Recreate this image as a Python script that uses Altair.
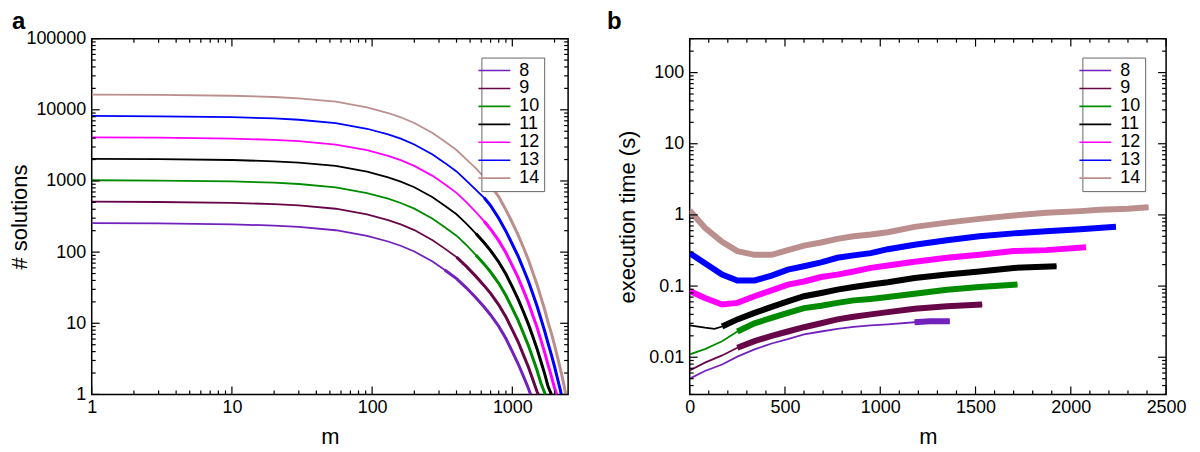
import altair as alt
import pandas as pd

SERIES = ["8", "9", "10", "11", "12", "13", "14"]
COLORS = ["#7221BC", "#670748", "#008B00", "#000000", "#FF00FF", "#0000FF", "#BC8F8F"]

# ---------------- panel a: number of solutions vs m ----------------
M_GRID = [1, 3, 10, 20, 30, 55, 92, 130, 160, 200, 270, 330, 400, 470, 550, 630, 700,
          800, 900, 1000, 1100, 1200, 1300, 1400, 1500, 1600, 1700, 1800, 1900, 2000,
          2100, 2200, 2300, 2400]
A_M = {
    "8":  M_GRID[:23] + [1350],
    "9":  M_GRID[:25] + [1530],
    "10": M_GRID[:26] + [1720],
    "11": M_GRID[:28] + [1900],
    "12": M_GRID[:30] + [2070],
    "13": M_GRID[:32] + [2235],
    "14": M_GRID[:34],
}
A_N = {
    "8":  [256, 253, 246, 236, 227, 203, 169, 141, 123, 102, 73.7, 56, 42.5, 31.5, 22.8, 16.9,
           13.1, 9.1, 6.1, 4.0, 2.7, 1.8, 1.23, 1],
    "9":  [512, 506, 493, 473, 453, 407, 338, 282, 245, 204, 147, 112, 85, 63, 45.6, 33.8, 26.3,
           18.2, 12.3, 8.1, 5.5, 3.6, 2.45, 1.62, 1.1, 1],
    "10": [1024, 1013, 985, 945, 906, 813, 677, 563, 490, 408, 295, 224, 170, 126, 91, 67.7, 52.5,
           36.4, 24.6, 16.2, 11.0, 7.25, 4.9, 3.24, 2.19, 1.44, 1],
    "11": [2048, 2025, 1970, 1890, 1812, 1626, 1354, 1126, 981, 815, 590, 449, 340, 252, 182, 135,
           105, 72.7, 49.2, 32.4, 21.9, 14.5, 9.8, 6.5, 4.4, 2.9, 1.96, 1.29, 1],
    "12": [4096, 4051, 3940, 3781, 3625, 3252, 2707, 2253, 1962, 1630, 1180, 897, 680, 504, 365,
           271, 210, 145, 98, 64.7, 43.8, 29, 19.6, 12.9, 8.8, 5.8, 3.9, 2.6, 1.79, 1.24, 1],
    "13": [8192, 8102, 7880, 7561, 7250, 6504, 5415, 4506, 3924, 3260, 2359, 1794, 1360, 1008, 750,
           580, 450, 300, 197, 129, 87.7, 58, 39.2, 25.9, 17.5, 11.6, 7.8, 5.2, 3.6, 2.47, 1.67,
           1.16, 1],
    "14": [16384, 16204, 15761, 15122, 14500, 13009, 10830, 9011, 7848, 6521, 4719, 3588, 2720,
           2015, 1500, 1120, 870, 600, 393, 259, 175, 116, 78.5, 51.8, 35, 23.1, 15.6, 10.3, 7.2,
           4.95, 3.34, 2.31, 1.56, 1.03],
}
# m from which the curve of panel a looks noisy (thicker)
A_NOISY_FROM = {"8": 300, "9": 400, "10": 500, "11": 550, "12": 600, "13": 600, "14": 700}

# ---------------- panel b: execution time vs m ----------------
B_M = {
    "8":  [0, 80, 170, 250, 340, 430, 515, 600, 690, 775, 860, 950, 1040, 1180, 1260, 1365],
    "9":  [0, 80, 170, 250, 340, 430, 515, 600, 690, 775, 860, 950, 1040, 1180, 1350, 1535],
    "10": [0, 80, 170, 250, 340, 430, 515, 600, 690, 775, 860, 950, 1040, 1180, 1350, 1520, 1720],
    "11": [0, 80, 130, 170, 250, 340, 430, 515, 600, 690, 775, 860, 950, 1040, 1180, 1350, 1520, 1700, 1925],
    "12": [0, 80, 170, 250, 340, 430, 515, 600, 690, 775, 860, 950, 1040, 1180, 1350, 1520, 1700, 1870, 2080],
    "13": [0, 80, 170, 250, 340, 430, 515, 600, 690, 775, 860, 950, 1040, 1180, 1350, 1520, 1700, 1870, 2050, 2237],
    "14": [0, 80, 170, 250, 340, 430, 515, 600, 690, 775, 860, 950, 1040, 1180, 1350, 1520, 1700, 1870, 2050, 2150, 2300, 2408],
}
B_T = {
    "8":  [0.005, 0.0064, 0.0079, 0.0102, 0.0129, 0.0156, 0.018, 0.021, 0.023, 0.025, 0.0267, 0.028, 0.029, 0.031, 0.032, 0.032],
    "9":  [0.0065, 0.0084, 0.0106, 0.0136, 0.0168, 0.020, 0.023, 0.0264, 0.030, 0.034, 0.037, 0.040, 0.043, 0.048, 0.052, 0.055],
    "10": [0.011, 0.013, 0.0168, 0.023, 0.030, 0.0357, 0.042, 0.049, 0.053, 0.058, 0.063, 0.066, 0.070, 0.078, 0.089, 0.097, 0.105],
    "11": [0.028, 0.026, 0.025, 0.027, 0.034, 0.042, 0.051, 0.061, 0.072, 0.080, 0.089, 0.097, 0.105, 0.113, 0.13, 0.145, 0.16, 0.18, 0.19],
    "12": [0.085, 0.068, 0.055, 0.058, 0.072, 0.087, 0.105, 0.116, 0.134, 0.145, 0.16, 0.18, 0.195, 0.22, 0.25, 0.275, 0.31, 0.32, 0.35],
    "13": [0.29, 0.21, 0.145, 0.12, 0.12, 0.14, 0.17, 0.19, 0.215, 0.25, 0.27, 0.29, 0.33, 0.38, 0.44, 0.50, 0.55, 0.59, 0.63, 0.68],
    "14": [1.15, 0.66, 0.42, 0.31, 0.275, 0.275, 0.32, 0.37, 0.41, 0.46, 0.50, 0.53, 0.57, 0.68, 0.78, 0.88, 0.98, 1.07, 1.13, 1.18, 1.22, 1.28],
}
# m from which the timing curve is a noisy band
B_NOISY_FROM = {"8": 1180, "9": 250, "10": 250, "11": 170, "12": 0, "13": 0, "14": 0}

PANEL_LABELS = ["a", "b"]

FONT = "Liberation Sans"
W, H = 478, 357

rows_a = []
for s in SERIES:
    for m, n in zip(A_M[s], A_N[s]):
        rows_a.append({"n": s, "m": m, "v": n, "noisy": m >= A_NOISY_FROM[s]})
df_a = pd.DataFrame(rows_a)

rows_b = []
for s in SERIES:
    for m, t in zip(B_M[s], B_T[s]):
        rows_b.append({"n": s, "m": m, "v": t, "noisy": m >= B_NOISY_FROM[s]})
df_b = pd.DataFrame(rows_b)


def legend(x, y):
    return alt.Legend(
        title=None, orient="none", legendX=x, legendY=y, zindex=2,
        symbolType="M-2,0L2,0", symbolSize=256, symbolStrokeWidth=1.6,
        labelFont=FONT, labelFontSize=18, labelColor="black", labelOffset=16,
        padding=4, rowPadding=0, strokeColor="#666666", fillColor="white",
    )


def ticks(xscale, yscale, xmaj, xmin, ymaj, ymin):
    layers = []
    for vals, L in [(xmaj, 8), (xmin, 4)]:
        d = pd.DataFrame({"m": vals})
        for y0, y1 in [(H, H - L), (0, L)]:
            layers.append(alt.Chart(d).mark_rule(color="black", strokeWidth=1.2).encode(
                x=alt.X("m:Q", scale=xscale), y=alt.value(y0), y2=alt.value(y1)))
    for vals, L in [(ymaj, 8), (ymin, 4)]:
        d = pd.DataFrame({"v": vals})
        for x0, x1 in [(0, L), (W, W - L)]:
            layers.append(alt.Chart(d).mark_rule(color="black", strokeWidth=1.2).encode(
                y=alt.Y("v:Q", scale=yscale), x=alt.value(x0), x2=alt.value(x1)))
    return layers


def noisy_layers(df, xscale, yscale, width):
    out = []
    for s, c in zip(SERIES, COLORS):
        sub = df[(df["n"] == s) & (df["noisy"])]
        out.append(alt.Chart(sub).mark_line(strokeWidth=width, color=c, clip=True).encode(
            x=alt.X("m:Q", scale=xscale), y=alt.Y("v:Q", scale=yscale), order=alt.Order("m:Q")))
    return out


def panel_label(text, dx):
    return alt.Chart(pd.DataFrame({"t": [text]})).mark_text(
        font=FONT, fontSize=24, fontWeight="bold", align="left", baseline="alphabetic",
        color="black").encode(text="t:N", x=alt.value(dx), y=alt.value(-10))


def x_axis(values, fmt):
    return alt.Axis(title="m", values=values, format=fmt, labelOverlap=False, labelFlush=False,
                    labelPadding=4, titleX=W / 2, titleY=49, titleBaseline="alphabetic")


def y_axis(title, values, tx):
    return alt.Axis(title=title, values=values, format="~g", labelOverlap=False, labelFlush=False,
                    labelPadding=6, titleX=tx, titleY=H / 2, titleAngle=270,
                    titleBaseline="alphabetic")


# ---- panel a ----
xa = alt.Scale(type="log", domain=[1, 2500], nice=False)
ya = alt.Scale(type="log", domain=[1, 100000], nice=False)
xa_axis = x_axis([1, 10, 100, 1000], "~g")
ya_axis = y_axis("# solutions", [1, 10, 100, 1000, 10000, 100000], -65)

lines_a = alt.Chart(df_a).mark_line(strokeWidth=1.8, clip=True).encode(
    x=alt.X("m:Q", scale=xa, axis=xa_axis),
    y=alt.Y("v:Q", scale=ya, axis=ya_axis),
    color=alt.Color("n:N", scale=alt.Scale(domain=SERIES, range=COLORS), sort=SERIES,
                    legend=legend(391, 19)),
    order=alt.Order("m:Q"),
)
dec = [1, 10, 100, 1000]
xa_min = [k * d for d in dec for k in range(2, 10) if k * d <= 2500]
ya_maj = [1, 10, 100, 1000, 10000, 100000]
ya_min = [k * d for d in ya_maj[:-1] for k in range(2, 10)]
panel_a = alt.layer(
    lines_a, *noisy_layers(df_a, xa, ya, 3.0),
    *ticks(xa, ya, dec, xa_min, ya_maj, ya_min),
    panel_label(PANEL_LABELS[0], -80),
).properties(width=W, height=H)

# ---- panel b ----
xb = alt.Scale(domain=[0, 2500], nice=False)
yb = alt.Scale(type="log", domain=[0.003, 300], nice=False)
xb_axis = x_axis([0, 500, 1000, 1500, 2000, 2500], "d")
yb_axis = y_axis("execution time (s)", [0.01, 0.1, 1, 10, 100], -55)

lines_b = alt.Chart(df_b).mark_line(strokeWidth=1.8, clip=True).encode(
    x=alt.X("m:Q", scale=xb, axis=xb_axis),
    y=alt.Y("v:Q", scale=yb, axis=yb_axis),
    color=alt.Color("n:N", scale=alt.Scale(domain=SERIES, range=COLORS), sort=SERIES,
                    legend=legend(394, 19)),
    order=alt.Order("m:Q"),
)
yb_maj = [0.01, 0.1, 1, 10, 100]
yb_min = [k * d for d in [0.001, 0.01, 0.1, 1, 10, 100] for k in range(2, 10) if 0.003 <= k * d <= 300]
xb_maj = [0, 500, 1000, 1500, 2000, 2500]
xb_min = [v for v in range(100, 2500, 100) if v % 500 != 0]
panel_b = alt.layer(
    lines_b, *noisy_layers(df_b, xb, yb, 6.0),
    *ticks(xb, yb, xb_maj, xb_min, yb_maj, yb_min),
    panel_label(PANEL_LABELS[1], -83),
).properties(width=W, height=H)

chart = alt.hconcat(panel_a, panel_b, spacing=36).resolve_scale(
    color="independent"
).resolve_legend(color="independent").properties(
    padding={"left": 0, "top": 0, "right": 5, "bottom": 0}
).configure_view(stroke="black", strokeWidth=1.5).configure_axis(
    labelFont=FONT, labelFontSize=18, labelColor="black",
    titleFont=FONT, titleFontSize=22, titleFontWeight="normal", titleColor="black",
    grid=False, domain=False, ticks=False,
)

chart.save("out.html", embed_options={"renderer": "svg", "actions": False})
